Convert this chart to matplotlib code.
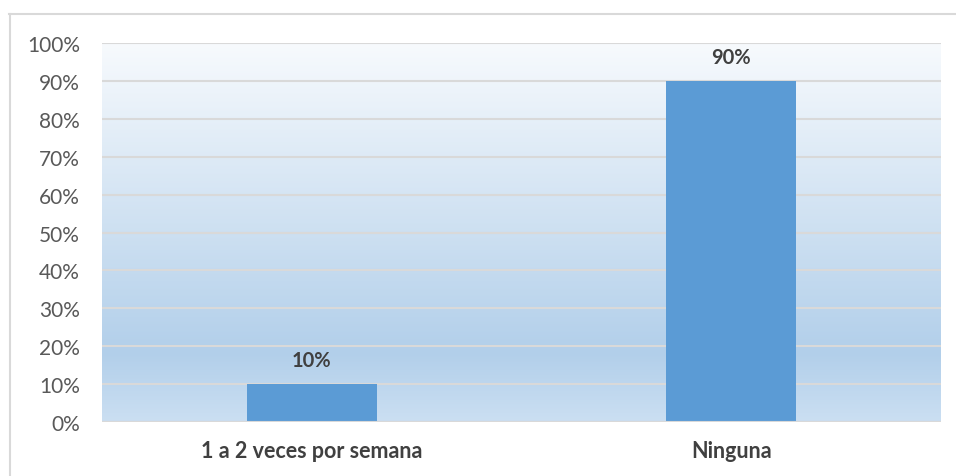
import numpy as np
import matplotlib
matplotlib.use("Agg")
import matplotlib.pyplot as plt
from matplotlib.colors import LinearSegmentedColormap
from matplotlib.lines import Line2D

categories = ["1 a 2 veces por semana", "Ninguna"]
values = [10, 90]
yticks = [0, 10, 20, 30, 40, 50, 60, 70, 80, 90, 100]

plt.rcParams['font.family'] = ['Lato', 'DejaVu Sans']

fig = plt.figure(figsize=(9.56, 4.77), dpi=100)
ax = fig.add_axes([102/956, 1 - 423/477, 839/956, 379/477])

# gradient background (light at top, blue near bottom)
cmap = LinearSegmentedColormap.from_list("bg", [(0.0, "#CBDFF2"), (0.18, "#B2CFEA"), (1.0, "#F7FAFD")])
grad = np.linspace(0, 1, 256).reshape(-1, 1)
ax.imshow(grad, cmap=cmap, aspect='auto', extent=[-0.5, 1.5, 0, 100], origin='lower', zorder=0)

x = np.arange(len(categories))
ax.bar(x, values, width=0.31, color="#5B9BD5", zorder=3)
for xi, v in zip(x, values):
    ax.annotate(f"{v}%", (xi, v), xytext=(0, 10), textcoords='offset points',
                ha='center', va='bottom', fontsize=14.5, fontweight='bold', color='#404040')

ax.set_xlim(-0.5, 1.5)
ax.set_ylim(0, 100)
ax.set_yticks(yticks)
ax.set_yticklabels([f"{t}%" for t in yticks])
ax.set_xticks(x)
ax.set_xticklabels(categories, fontweight='bold')
ax.tick_params(axis='y', length=0, pad=16, labelsize=15, labelcolor='#595959')
ax.tick_params(axis='x', length=0, pad=13, labelsize=15.5, labelcolor='#404040')
ax.grid(axis='y', color='#D9D9D9', linewidth=1.5, zorder=1)
ax.set_axisbelow(False)
for s in ax.spines.values():
    s.set_visible(False)
ax.axhline(0, color='#D9D9D9', linewidth=1.5, zorder=4)

# chart border (left and top)
fig.add_artist(Line2D([9.5/956, 9.5/956], [0, 1 - 15/477], color='#D9D9D9', linewidth=1.5, transform=fig.transFigure))
fig.add_artist(Line2D([9/956, 955/956], [1 - 15/477, 1 - 15/477], color='#D9D9D9', linewidth=1.5, transform=fig.transFigure))

fig.savefig("out.png", dpi=100)
